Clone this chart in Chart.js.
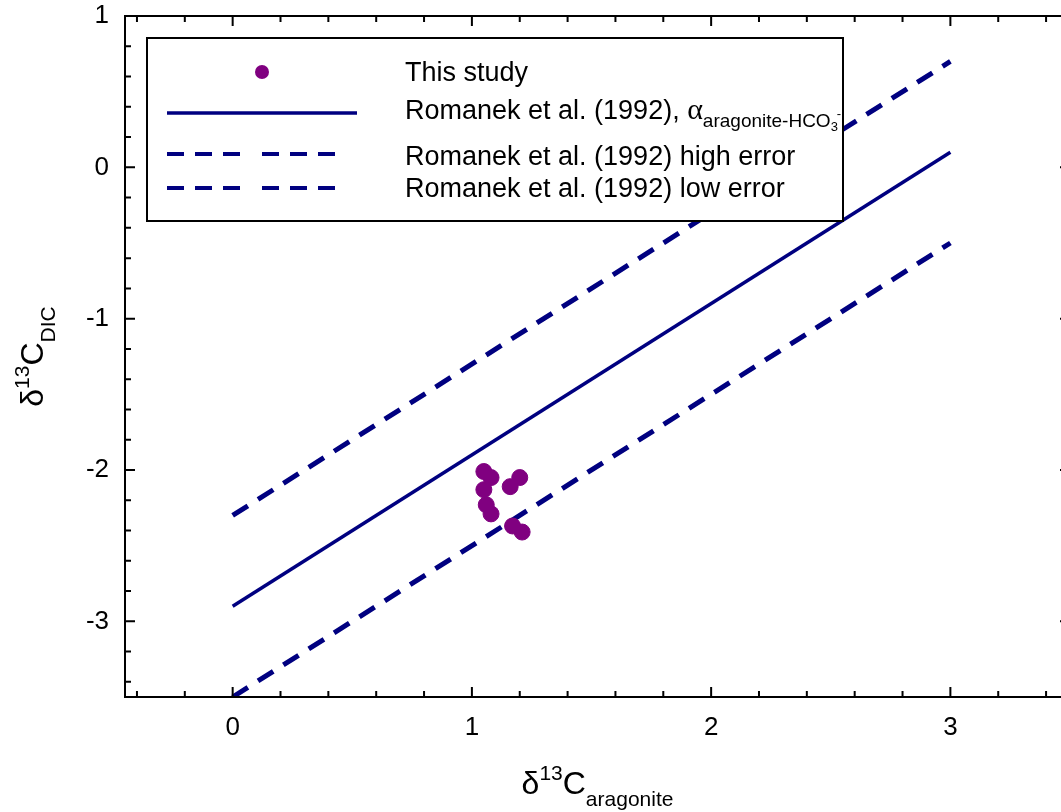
<!DOCTYPE html>
<html>
<head>
<meta charset="utf-8">
<script src="https://cdn.jsdelivr.net/npm/chart.js@4.4.0/dist/chart.umd.min.js"></script>
<style>
    html, body { margin: 0; padding: 0; background: #fff; overflow: hidden; }
    #wrap { width: 1080px; height: 812px; }
</style>
</head>
<body>
<div id="wrap"><canvas id="myChart" width="1080" height="812"></canvas></div>
<script>
// data
const studyX = [1.05, 1.08, 1.05, 1.06, 1.08, 1.16, 1.20, 1.17, 1.21];
const studyY = [-2.01, -2.05, -2.13, -2.23, -2.29, -2.11, -2.05, -2.37, -2.41];

const lineX = [0, 3];
const romanekY = [-2.9, 0.1];
const highErrY = [-2.3, 0.7];
const lowErrY = [-3.5, -0.5];

const xTicks = [0, 1, 2, 3];
const yTicks = [1, 0, -1, -2, -3];

const seriesLabels = [
    'This study',
    'Romanek et al. (1992), ',
    'Romanek et al. (1992) high error',
    'Romanek et al. (1992) low error'
];

const navy = '#000080';
const purple = '#800080';
const font = 'Arial, "Liberation Sans", sans-serif';

function pts(xs, ys) {
    return xs.map((x, i) => ({ x: x, y: ys[i] }));
}

// frame + inward ticks on all four sides
const frameTicks = {
    id: 'frameTicks',
    afterDatasetsDraw(chart) {
        const { ctx, chartArea: a, scales: { x, y } } = chart;
        ctx.save();
        ctx.strokeStyle = '#000';
        ctx.lineWidth = 2;
        ctx.strokeRect(a.left, a.top, a.right - a.left, a.bottom - a.top);
        ctx.beginPath();
        for (let i = -2; i <= 17; i++) {
            const v = i * 0.2;
            const len = (i % 5 === 0) ? 10 : 6;
            const px = x.getPixelForValue(v);
            ctx.moveTo(px, a.bottom); ctx.lineTo(px, a.bottom - len);
            ctx.moveTo(px, a.top); ctx.lineTo(px, a.top + len);
        }
        for (let i = -17; i <= 4; i++) {
            const v = i * 0.2;
            const len = (i % 5 === 0) ? 10 : 6;
            const py = y.getPixelForValue(v);
            ctx.moveTo(a.left, py); ctx.lineTo(a.left + len, py);
            ctx.moveTo(a.right, py); ctx.lineTo(a.right - len, py);
        }
        ctx.stroke();
        ctx.restore();
    }
};

// draws "δ13C" with a subscript
function drawDeltaLabel(ctx, cx, base, sub) {
    const big = '32px ' + font, small = '21px ' + font;
    ctx.font = big;
    const wd = ctx.measureText('\u03B4').width;
    const wc = ctx.measureText('C').width;
    ctx.font = small;
    const w13 = ctx.measureText('13').width;
    const ws = ctx.measureText(sub).width;
    let xx = cx - (wd + w13 + wc + ws) / 2;
    ctx.textBaseline = 'alphabetic';
    ctx.textAlign = 'left';
    ctx.font = big;
    ctx.fillText('\u03B4', xx, base); xx += wd;
    ctx.font = small;
    ctx.fillText('13', xx, base - 14); xx += w13;
    ctx.font = big;
    ctx.fillText('C', xx, base); xx += wc;
    ctx.font = small;
    ctx.fillText(sub, xx, base + 12);
}

const axisTitles = {
    id: 'axisTitles',
    afterDraw(chart) {
        const { ctx, chartArea: a } = chart;
        ctx.save();
        ctx.fillStyle = '#000';
        drawDeltaLabel(ctx, (a.left + a.right) / 2, 794, 'aragonite');
        ctx.translate(43, (a.top + a.bottom) / 2);
        ctx.rotate(-Math.PI / 2);
        drawDeltaLabel(ctx, 0, 0, 'DIC');
        ctx.restore();
    }
};

// boxed legend with white fill
const boxLegend = {
    id: 'boxLegend',
    afterDatasetsDraw(chart) {
        const ctx = chart.ctx;
        const ds = chart.data.datasets;
        const rows = [72, 113, 154, 188];
        const textY = [81, 119, 165, 197];
        ctx.save();
        ctx.fillStyle = '#fff';
        ctx.fillRect(147, 38, 696, 183);
        ctx.strokeStyle = '#000';
        ctx.lineWidth = 2;
        ctx.strokeRect(147, 38, 696, 183);

        ds.forEach((d, i) => {
            const yy = rows[i];
            if (i === 0) {
                ctx.fillStyle = d.backgroundColor;
                ctx.beginPath();
                ctx.arc(262, yy, 7, 0, Math.PI * 2);
                ctx.fill();
            } else if (!d.borderDash) {
                ctx.strokeStyle = d.borderColor;
                ctx.lineWidth = 3.5;
                ctx.setLineDash([]);
                ctx.beginPath();
                ctx.moveTo(167, yy); ctx.lineTo(357, yy);
                ctx.stroke();
            } else {
                ctx.strokeStyle = d.borderColor;
                ctx.lineWidth = 4;
                ctx.setLineDash([17, 11]);
                ctx.beginPath();
                ctx.moveTo(167, yy); ctx.lineTo(240, yy);
                ctx.moveTo(262, yy); ctx.lineTo(335, yy);
                ctx.stroke();
                ctx.setLineDash([]);
            }
            ctx.fillStyle = '#000';
            ctx.textAlign = 'left';
            ctx.textBaseline = 'alphabetic';
            ctx.font = '27px ' + font;
            ctx.fillText(d.label, 405, textY[i]);
            if (i === 1) {
                let xx = 405 + ctx.measureText(d.label).width;
                ctx.font = '30px "Liberation Serif", "Times New Roman", serif';
                ctx.fillText('\u03B1', xx, textY[i]);
                xx += ctx.measureText('\u03B1').width;
                ctx.font = '19px ' + font;
                ctx.fillText('aragonite-HCO', xx, textY[i] + 8);
                xx += ctx.measureText('aragonite-HCO').width;
                ctx.font = '13px ' + font;
                ctx.fillText('3', xx, textY[i] + 12);
                ctx.fillText('-', xx + 6, textY[i] - 1);
            }
        });
        ctx.restore();
    }
};

const ctxMain = document.getElementById('myChart');
new Chart(ctxMain, {
    type: 'scatter',
    data: {
        datasets: [{
            label: seriesLabels[0],
            data: pts(studyX, studyY),
            backgroundColor: purple,
            borderColor: purple,
            pointRadius: 8,
            pointHoverRadius: 8,
            showLine: false
        }, {
            label: seriesLabels[1],
            data: pts(lineX, romanekY),
            showLine: true,
            borderColor: navy,
            borderWidth: 3.5,
            pointRadius: 0,
            fill: false
        }, {
            label: seriesLabels[2],
            data: pts(lineX, highErrY),
            showLine: true,
            borderColor: navy,
            borderWidth: 5,
            borderDash: [18, 12],
            pointRadius: 0,
            fill: false
        }, {
            label: seriesLabels[3],
            data: pts(lineX, lowErrY),
            showLine: true,
            borderColor: navy,
            borderWidth: 5,
            borderDash: [18, 12],
            pointRadius: 0,
            fill: false
        }]
    },
    options: {
        responsive: false,
        animation: false,
        layout: { padding: { top: 16, right: 10, left: 0, bottom: 0 } },
        plugins: {
            legend: { display: false },
            tooltip: { enabled: false }
        },
        scales: {
            x: {
                type: 'linear',
                min: -0.45,
                max: 3.5,
                afterBuildTicks: s => { s.ticks = xTicks.map(v => ({ value: v })); },
                afterFit: s => { s.height = 115; s.paddingLeft = 0; s.paddingRight = 0; },
                grid: { display: false, drawTicks: false },
                border: { display: false },
                ticks: { color: '#000', padding: 15, font: { family: font, size: 26 } }
            },
            y: {
                type: 'linear',
                min: -3.5,
                max: 1,
                afterBuildTicks: s => { s.ticks = yTicks.map(v => ({ value: v })); },
                afterFit: s => { s.width = 125; s.paddingTop = 0; s.paddingBottom = 0; },
                grid: { display: false, drawTicks: false },
                border: { display: false },
                ticks: { color: '#000', padding: 16, font: { family: font, size: 26 } }
            }
        }
    },
    plugins: [frameTicks, boxLegend, axisTitles]
});
</script>
</body>
</html>
